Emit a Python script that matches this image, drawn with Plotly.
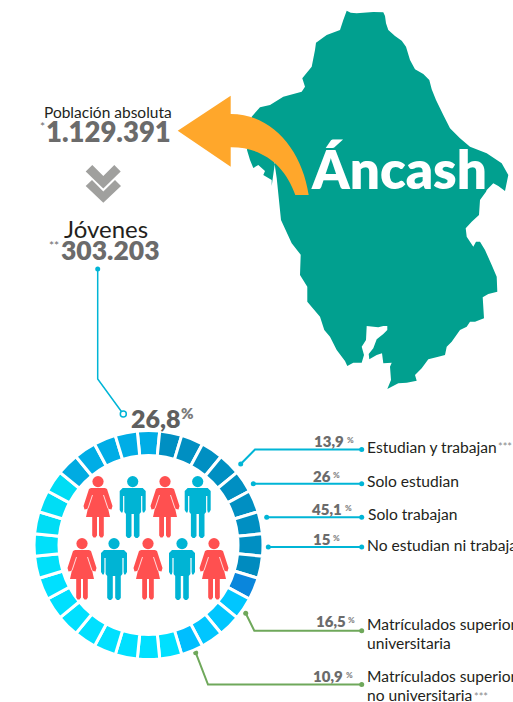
import plotly.graph_objects as go

W, H = 513, 702

# ring: one colour per tile, clockwise starting from the top tile
ring_colors = [
    "#00ADE6",
    "#008FC2", "#008FC2", "#008FC2", "#008FC2", "#008FC2", "#008FC2", "#008FC2", "#008FC2",
    "#008BBF", "#0A86DC", "#00C6FF", "#00C6FF", "#00C6FF", "#00BEFF", "#00E0FF",
    "#00E0FF",
    "#00E0FF", "#00E0FF", "#00E0FF", "#00E0FF", "#00E0FF", "#00E0FF", "#00E0FA", "#00E0FA",
    "#00DDF5", "#00DDF5", "#00DDF5", "#00ABE2", "#00ADE6", "#00ADE6", "#00ADE6",
]
ring_values = [1] * len(ring_colors)

# figures from the picture
total_value = "1.129.391"
youth_value = "303.203"
youth_share = "26,8"
share_values = ["13,9", "26", "45,1", "15", "16,5", "10,9"]
share_labels = [
    ["Estudian y trabajan"],
    ["Solo estudian"],
    ["Solo trabajan"],
    ["No estudian ni trabajan"],
    ["Matrículados superior", "universitaria"],
    ["Matrículados superior", "no universitaria"],
]

# region outline, pixels
map_x = [
    346.7, 350.7, 356.7, 363.3, 373.3, 383.3, 385, 386, 388.3, 395, 401.7, 406, 410, 415, 423.3, 429.3,
    431.7, 436, 443.3, 450, 460, 470, 486.7, 501.7, 508.3, 505, 498.3, 493.3, 486.7,
    486, 480, 479, 471.7, 465.7, 466.7, 473.3, 476, 480, 485, 491.7, 496.7, 497.3, 488.3, 482.7,
    484, 475, 470, 466.7, 460, 451.7, 446.7, 445, 438.3, 428.3, 421.7, 415, 416.7, 406.7, 398.3,
    387.3, 391, 390, 391.7, 383.3, 382, 376.7, 369.3, 368.7, 373.3, 376.7, 383.3, 387.3, 387.3,
    383.3, 378.3, 366.7, 366, 361.7, 364, 361.7, 353.3, 347.3, 345, 336.7, 330, 324.3, 320, 307.3,
    307.3, 300, 300.7, 291.7, 281, 276.7, 273.3, 280, 276.7,
    271.7, 271.7, 263.3, 265, 258.3, 253.3, 250, 247, 251.7, 260, 270, 283.3, 301.7, 305, 302.3,
    311.7, 315, 316, 326.7, 340, 343.3,
]
map_y = [
    10.7, 12.7, 13.3, 12.7, 12, 12.3, 16, 23.3, 30, 36, 40.7, 46.7, 60, 69.3, 74, 80,
    89.3, 100, 115, 128.3, 138.3, 146.7, 153.3, 163.3, 175, 191, 186, 183.3, 190,
    191.7, 200, 215, 221.7, 228.3, 236.7, 246.7, 241.7, 241.7, 250, 265, 276.7, 291.7, 294, 297.3,
    318.3, 321.7, 321.7, 326.7, 330, 341.7, 346.7, 355, 356.7, 359.3, 368.3, 375, 380.7, 382.7, 383.3,
    389, 380, 366.7, 362.7, 363.3, 353.3, 355, 359.3, 354, 348.3, 339.3, 334, 330, 326,
    326, 327.3, 326, 340, 346.7, 355, 362.7, 362.7, 366, 361, 350, 336.7, 330, 316.7, 301.7,
    286.7, 275, 254.7, 243.3, 220, 178, 155, 150, 150,
    186, 180, 175, 171, 165, 168, 160, 150, 116.7, 107.3, 105, 96.7, 91.7, 86.7, 78.3,
    66.7, 50, 42.7, 35, 30, 20,
]

# pictogram outlines, right half, relative to the head top
woman_half = [
    (0, 12), (7, 12), (9, 13), (14.5, 30), (13.5, 33.5), (11, 33), (10, 32), (12, 41),
    (5.8, 41), (5.8, 59.5), (4.5, 61.5), (2.5, 61.5), (1, 59.5), (1, 41), (0, 41),
]
man_half = [
    (0, 12), (10, 12), (13, 15), (13, 34), (11.5, 36.5), (10.2, 36.5), (9.6, 34), (9.6, 20),
    (8.4, 20), (8.4, 36), (6.8, 38), (6.8, 60), (5, 62), (3, 62), (1.2, 60), (1.2, 38), (0, 38),
]
people = [
    ("w", 98, 476), ("m", 132.7, 476), ("w", 165, 476), ("m", 197.7, 476),
    ("w", 82, 538), ("m", 114, 538), ("w", 148, 538), ("m", 182, 538), ("w", 214, 538),
]

TEAL = "#01A08F"
ORANGE = "#FFA72B"
GREY = "#A0A09E"
NUM = "#6B6B6B"
CYAN = "#00B5D6"
GREEN = "#6FA85B"
RED = "#FF5050"
MAN = "#00B4D4"
FONT = "Lato"


def poly(points):
    return "M" + " L".join(f"{x:.1f},{y:.1f}" for x, y in points) + " Z"


def person_shapes(kind, cx, top):
    half = woman_half if kind == "w" else man_half
    color = RED if kind == "w" else MAN
    outline = [(cx + x, top + y) for x, y in half] + [(cx - x, top + y) for x, y in reversed(half)]
    shapes = [
        dict(type="path", path=poly(outline), fillcolor=color, line_width=0),
        dict(type="circle", x0=cx - 5.6, x1=cx + 5.6, y0=top, y1=top + 11.2, fillcolor=color, line_width=0),
    ]
    if kind == "w":
        for s in (-1, 1):
            shapes.append(dict(type="line", x0=cx + s * 5.5, y0=top + 19, x1=cx + s * 10, y1=top + 32.5,
                               line=dict(color="white", width=0.8)))
    return shapes


def text(x, y, s, size, color="#231F20", bold=False, anchor="left"):
    return dict(x=x, y=y, text=s, showarrow=False, xanchor=anchor, yanchor="middle", borderpad=0,
                font=dict(family=FONT, size=size, color=color, weight=800 if bold else 400))


fig = go.Figure()

# ring
cx, cy, radius, inner = 148.5, 545, 114.5, 89.5
fig.add_trace(go.Pie(
    values=ring_values, sort=False, direction="clockwise", rotation=-360 / len(ring_values) / 2,
    hole=inner / radius, textinfo="none", hoverinfo="skip", showlegend=False,
    marker=dict(colors=ring_colors, line=dict(color="white", width=3)),
    domain=dict(x=[(cx - radius) / W, (cx + radius) / W], y=[1 - (cy + radius) / H, 1 - (cy - radius) / H]),
))

# leader lines
cyan_lines = [
    ([240.7, 255, 361.7], [464, 449.5, 449.5]),
    ([253.3, 361.7], [483.7, 483.7]),
    ([266.7, 361.7], [517.3, 517.3]),
    ([268.3, 361.7], [547, 547]),
]
green_lines = [
    ([245.7, 254.3, 361.7], [613.3, 630.7, 630.7]),
    ([195.7, 208, 361.7], [652.7, 684.5, 684.5]),
]
for lines, color in ((cyan_lines, CYAN), (green_lines, GREEN)):
    for xs, ys in lines:
        fig.add_trace(go.Scatter(x=xs, y=ys, mode="lines", line=dict(color=color, width=2),
                                 showlegend=False, hoverinfo="skip"))
        fig.add_trace(go.Scatter(x=[xs[0], xs[-1]], y=[ys[0], ys[-1]], mode="markers",
                                 marker=dict(color=color, size=5), showlegend=False, hoverinfo="skip"))
fig.add_trace(go.Scatter(x=[97.7, 97.7, 122.5], y=[269, 379, 413], mode="lines",
                         line=dict(color=CYAN, width=1.5), showlegend=False, hoverinfo="skip"))
fig.add_trace(go.Scatter(x=[97.7], y=[269], mode="markers", marker=dict(color=CYAN, size=5),
                         showlegend=False, hoverinfo="skip"))
fig.add_trace(go.Scatter(x=[123.3], y=[414], mode="markers",
                         marker=dict(symbol="circle", color="white", size=6, line=dict(color=CYAN, width=1.5)),
                         showlegend=False, hoverinfo="skip"))

shapes = [dict(type="path", path=poly(list(zip(map_x, map_y))), fillcolor=TEAL, line_width=0)]

# big arrow
shapes.append(dict(
    type="path", fillcolor=ORANGE, line_width=0,
    path="M177.7,130.7 L230.7,95.7 L230.7,114 C272,114 302,150 308.7,195 L295.3,195 "
         "C285,165 262,147 230.7,147.3 L230.7,166.7 Z",
))

# double chevron
shapes.append(dict(type="path", fillcolor=GREY, line_width=0,
                   path=poly([(92.3, 165), (103.3, 176), (114.3, 165), (120.7, 171.5), (103.3, 188.5), (85.7, 171.5)])))
shapes.append(dict(type="path", fillcolor=GREY, line_width=0,
                   path=poly([(92, 180), (103.3, 191.5), (115, 180), (121, 186), (103.3, 202.7), (85.7, 186)])))

for kind, px, top in people:
    shapes += person_shapes(kind, px, top)

notes = [
    text(310, 168, "Áncash", 53, "white", True),
    text(108, 112, "Población absoluta", 15.5, anchor="center"),
    text(44.5, 131.5, total_value, 27.5, NUM, True),
    text(39, 126, "*", 12, NUM),
    text(105.5, 228, "Jóvenes", 24, anchor="center"),
    text(60, 250, youth_value, 26.5, NUM, True),
    text(48, 245, "**", 12, NUM),
    text(130, 418, youth_share, 25, "#5F5F5F", True),
    text(180, 413, "%", 15, "#7A7A7A", True),
]

num_right = [345, 332, 343, 332, 346.5, 344]
num_y = [441, 476, 509, 538.5, 621, 676]
pct_x = [345.5, 331.5, 343.5, 331.5, 346.5, 344.5]
label_x = [366, 366, 366.5, 365.5, 366, 366]
label_y = [447, 481, 514, 545, 624, 676]
for i, value in enumerate(share_values):
    notes.append(text(num_right[i], num_y[i], value, 15, NUM, True, anchor="right"))
    notes.append(text(pct_x[i], num_y[i] - 1, "%", 8, "#8A8A8A", True))
    for j, line in enumerate(share_labels[i]):
        notes.append(text(label_x[i], label_y[i] + j * 19, line, 15.6))
notes.append(text(497, 446, "***", 11, "#8A8A8A"))
notes.append(text(473, 696, "***", 11, "#8A8A8A"))

fig.update_xaxes(range=[0, W], visible=False, fixedrange=True)
fig.update_yaxes(range=[H, 0], visible=False, fixedrange=True)
fig.update_layout(
    width=W, height=H, margin=dict(l=0, r=0, t=0, b=0),
    paper_bgcolor="white", plot_bgcolor="white",
    shapes=shapes, annotations=notes, showlegend=False,
)

# the page's default body margin would push the fixed-size figure off the window
fig.write_html("out.html", config=dict(displayModeBar=False),
               post_script="document.body.style.margin='0';document.body.style.overflow='hidden';")
